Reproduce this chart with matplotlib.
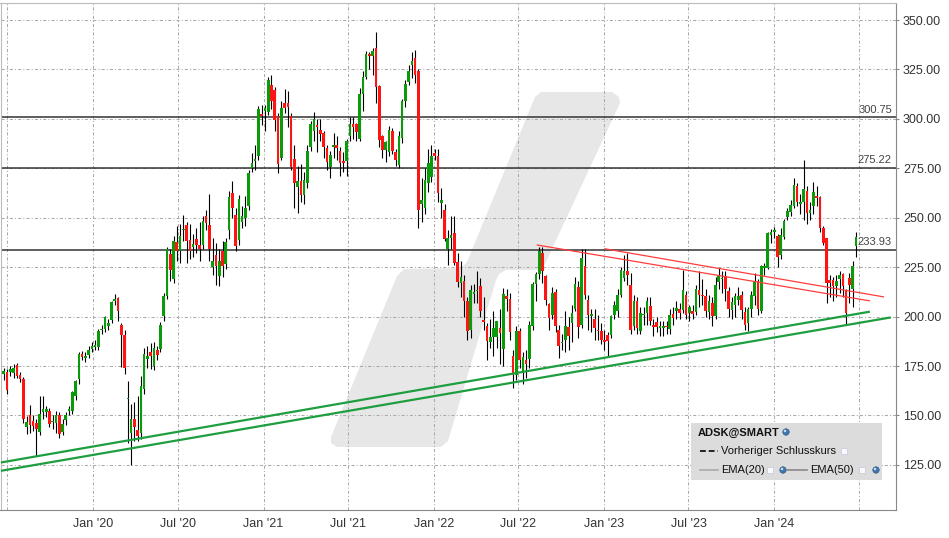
import pandas as pd
import matplotlib.pyplot as plt
import matplotlib.dates as mdates
from matplotlib.patches import Polygon, Rectangle, Ellipse
from matplotlib.lines import Line2D

plt.rcParams['font.family'] = ['Liberation Sans', 'DejaVu Sans']

# ADSK weekly candles
start_date = '2019-06-24'
opens = [171.0, 171.9, 172.0, 171.5, 175.3, 170.7, 168.5, 144.3, 150.0, 147.2,
         146.0, 141.6, 151.7, 152.0, 152.5, 146.5, 146.3, 150.0, 141.6, 147.7,
         152.2, 152.2, 160.1, 168.2, 181.3, 179.1, 180.5, 183.6, 184.4, 184.4,
         193.0, 193.7, 195.0, 198.4, 207.7, 209.3, 195.9, 190.8, 158.2, 141.2,
         148.0, 142.8, 141.2, 163.4, 178.6, 182.0, 174.9, 183.3, 183.7, 200.2,
         210.3, 231.8, 219.0, 237.5, 233.0, 243.6, 246.5, 238.9, 235.4, 239.2,
         236.4, 236.4, 251.0, 246.5, 225.1, 231.3, 220.7, 233.0, 226.8, 243.6,
         262.5, 251.5, 238.9, 248.1, 249.8, 255.7, 275.1, 278.5, 281.3, 302.5,
         304.2, 303.7, 317.2, 314.7, 301.5, 280.1, 308.2, 307.9, 301.5, 279.6,
         265.5, 268.4, 261.6, 267.5, 285.7, 294.1, 297.0, 294.4, 292.8, 285.5,
         275.6, 285.8, 286.9, 283.8, 278.5, 278.5, 291.1, 297.5, 297.5, 289.7,
         312.6, 321.4, 332.8, 331.8, 335.7, 316.7, 291.1, 284.3, 283.0, 293.9,
         283.0, 276.8, 290.2, 308.8, 318.9, 327.3, 330.6, 324.4, 257.1, 254.9,
         267.8, 270.5, 282.6, 281.3, 257.4, 253.7, 234.1, 239.7, 242.5, 227.4,
         216.9, 217.8, 207.7, 193.1, 211.4, 212.9, 215.3, 198.4, 195.4, 187.0,
         189.7, 189.7, 194.2, 183.6, 210.2, 209.0, 180.3, 170.7, 192.5, 172.3,
         178.2, 178.6, 195.1, 216.6, 221.7, 232.4, 220.3, 206.5, 201.0, 212.3,
         193.4, 186.6, 188.0, 194.7, 196.8, 204.0, 214.8, 195.6, 225.4, 208.6,
         200.2, 199.0, 193.4, 192.6, 188.4, 190.9, 190.9, 200.7, 203.0, 211.1,
         219.5, 223.2, 216.1, 195.1, 208.1, 192.6, 200.7, 201.8, 205.2, 196.0,
         197.1, 194.3, 194.0, 195.5, 193.9, 201.3, 202.7, 204.0, 203.5, 211.1,
         201.8, 203.0, 202.3, 213.6, 211.1, 210.3, 202.3, 206.9, 200.1, 217.3,
         218.8, 220.3, 212.8, 203.2, 206.0, 208.5, 211.1, 202.1, 196.8, 203.8,
         210.2, 217.8, 202.6, 224.6, 224.5, 241.4, 242.6, 240.9, 231.3, 240.5,
         250.6, 252.7, 256.0, 266.1, 257.0, 258.2, 263.3, 252.6, 256.0, 261.0,
         260.4, 244.7, 239.7, 218.6, 218.6, 215.6, 219.2, 221.7, 213.6, 219.5,
         213.9, 235.6]
highs = [174.0, 173.5, 175.0, 176.0, 176.5, 172.0, 169.5, 149.5, 155.5, 150.0,
         148.0, 159.8, 160.0, 155.0, 154.0, 150.0, 152.5, 152.0, 148.0, 152.0,
         155.0, 162.5, 168.0, 182.0, 182.5, 182.0, 185.0, 187.0, 188.0, 193.5,
         196.0, 200.5, 199.0, 208.0, 211.5, 210.0, 197.0, 193.0, 167.3, 156.0,
         157.0, 160.0, 170.0, 184.0, 185.0, 186.5, 187.0, 185.0, 197.5, 212.0,
         235.0, 234.0, 241.0, 246.0, 247.0, 251.5, 248.0, 247.0, 242.0, 245.0,
         248.0, 251.0, 254.0, 262.0, 240.0, 237.0, 234.0, 238.0, 240.0, 263.5,
         268.5, 255.0, 261.5, 256.0, 261.0, 274.0, 282.5, 287.0, 306.5, 307.0,
         307.0, 321.0, 322.0, 316.0, 303.0, 309.0, 315.0, 314.0, 303.0, 287.0,
         276.0, 277.0, 273.0, 287.0, 299.0, 303.5, 300.0, 300.0, 294.0, 287.0,
         284.0, 293.0, 291.5, 286.0, 283.0, 290.0, 301.0, 301.0, 298.0, 315.5,
         324.0, 334.5, 334.0, 336.0, 344.1, 317.0, 292.0, 289.0, 296.5, 295.5,
         285.0, 294.0, 310.0, 319.5, 327.0, 334.0, 335.0, 325.0, 270.0, 275.0,
         285.0, 287.0, 285.0, 285.0, 265.0, 257.0, 244.0, 251.0, 251.0, 232.0,
         228.0, 221.0, 210.0, 216.0, 216.5, 223.0, 219.5, 210.0, 197.0, 199.0,
         203.0, 198.0, 204.0, 214.5, 214.0, 212.0, 183.0, 195.0, 194.0, 182.0,
         183.0, 198.0, 217.5, 222.5, 235.0, 235.0, 221.0, 207.0, 215.0, 214.0,
         196.0, 191.0, 203.0, 200.0, 206.0, 220.0, 218.0, 234.0, 234.0, 211.0,
         204.0, 204.0, 201.0, 197.0, 193.0, 192.0, 201.0, 208.0, 214.0, 225.0,
         231.0, 232.0, 222.0, 211.0, 210.0, 205.0, 205.0, 210.0, 210.0, 199.0,
         200.0, 198.0, 198.0, 198.0, 204.0, 205.0, 208.0, 207.0, 223.7, 213.0,
         206.0, 206.0, 216.0, 222.9, 219.0, 214.0, 211.0, 210.0, 220.0, 224.5,
         223.0, 223.0, 215.0, 210.0, 212.0, 215.0, 213.0, 205.0, 205.0, 213.0,
         222.0, 219.0, 226.0, 227.0, 243.0, 244.5, 245.5, 242.0, 245.0, 249.5,
         255.0, 259.0, 270.0, 267.5, 262.0, 279.2, 266.0, 258.0, 268.0, 266.0,
         261.0, 246.0, 240.0, 221.0, 220.0, 221.0, 223.0, 222.0, 214.0, 222.0,
         228.0, 243.0]
lows = [168.0, 161.0, 170.0, 169.0, 169.0, 167.0, 146.0, 140.4, 141.0, 142.0,
        129.5, 140.0, 148.0, 149.0, 144.0, 143.0, 141.0, 138.5, 140.0, 145.0,
        150.0, 151.0, 158.0, 166.0, 178.0, 177.0, 179.0, 182.0, 183.0, 183.0,
        191.0, 192.0, 193.0, 197.0, 206.0, 198.0, 174.5, 171.0, 136.0, 125.2,
        137.0, 137.0, 138.0, 161.0, 174.0, 173.5, 173.0, 178.0, 182.0, 198.0,
        209.0, 218.0, 217.0, 228.0, 227.0, 238.0, 227.0, 229.0, 230.0, 232.0,
        228.0, 234.0, 244.0, 228.0, 221.0, 216.0, 215.5, 220.0, 224.0, 239.0,
        250.0, 233.0, 236.0, 245.0, 246.0, 254.0, 273.0, 274.0, 279.0, 297.0,
        294.0, 302.0, 305.0, 294.0, 272.5, 279.0, 303.0, 296.0, 274.0, 254.9,
        252.4, 258.0, 257.0, 265.0, 284.0, 289.0, 283.0, 289.0, 280.0, 274.0,
        270.0, 280.0, 279.0, 271.0, 273.0, 271.0, 289.0, 290.0, 289.0, 289.0,
        304.0, 320.0, 325.0, 322.0, 308.0, 286.0, 280.0, 278.0, 281.0, 282.0,
        276.0, 275.0, 288.0, 306.0, 317.0, 320.5, 318.0, 245.0, 248.0, 252.0,
        263.0, 268.0, 279.0, 258.0, 250.0, 238.0, 226.0, 234.0, 226.0, 215.0,
        210.0, 200.0, 188.0, 189.0, 207.0, 207.0, 200.0, 193.0, 178.0, 184.0,
        180.0, 184.0, 176.0, 175.0, 203.0, 188.0, 164.0, 168.0, 174.0, 166.0,
        169.0, 174.0, 193.0, 208.0, 219.0, 217.0, 206.0, 193.0, 199.0, 192.0,
        179.0, 183.0, 182.0, 183.0, 187.0, 203.0, 189.0, 194.0, 209.0, 193.0,
        192.0, 188.0, 188.0, 186.0, 183.0, 180.0, 189.0, 199.0, 200.0, 210.0,
        218.0, 216.0, 191.0, 193.0, 191.0, 191.0, 196.0, 196.0, 196.0, 190.0,
        192.0, 190.0, 190.0, 191.0, 191.0, 196.0, 199.0, 199.0, 202.0, 199.0,
        198.0, 199.0, 201.0, 205.0, 206.0, 200.0, 199.0, 195.0, 199.0, 214.0,
        212.0, 208.0, 200.0, 199.0, 200.0, 206.0, 199.0, 193.0, 192.5, 200.0,
        206.0, 201.0, 202.0, 221.0, 224.0, 237.0, 240.0, 225.0, 229.0, 239.0,
        249.0, 251.0, 255.0, 256.0, 252.0, 249.0, 247.0, 249.0, 252.0, 256.0,
        243.0, 236.0, 207.0, 210.0, 208.0, 210.0, 212.0, 210.0, 196.0, 207.0,
        205.0, 230.0]
closes = [172.5, 163.0, 173.5, 174.0, 170.2, 168.5, 148.0, 146.6, 145.0, 144.6,
          143.3, 150.5, 153.4, 153.2, 145.5, 147.2, 150.0, 140.4, 145.8, 150.0,
          153.4, 161.8, 167.4, 181.3, 179.6, 180.3, 183.0, 185.3, 185.4, 192.5,
          193.7, 199.6, 197.0, 207.2, 209.0, 202.6, 190.8, 174.0, 159.0, 148.2,
          144.0, 139.5, 165.0, 181.2, 180.3, 180.0, 184.2, 180.8, 196.0, 210.6,
          234.2, 223.4, 238.0, 233.0, 240.6, 244.3, 238.0, 233.0, 236.6, 236.4,
          234.2, 248.5, 247.3, 234.2, 228.0, 225.4, 228.0, 225.8, 237.5, 260.3,
          254.9, 235.9, 259.4, 251.0, 254.9, 272.6, 277.9, 279.6, 304.9, 301.7,
          305.4, 319.7, 308.8, 299.2, 277.3, 305.4, 305.4, 305.9, 275.9, 267.5,
          268.4, 261.6, 269.2, 284.0, 297.5, 300.0, 295.8, 292.4, 286.0, 278.0,
          281.8, 286.4, 285.2, 277.6, 277.6, 288.9, 297.5, 296.1, 293.6, 312.6,
          321.0, 332.8, 331.8, 334.2, 316.0, 289.1, 284.3, 288.1, 294.4, 284.0,
          279.0, 291.1, 308.8, 317.7, 324.4, 329.5, 322.2, 254.0, 259.1, 269.2,
          277.6, 281.0, 281.3, 262.4, 259.0, 239.2, 239.7, 241.4, 227.1, 217.3,
          219.8, 207.7, 192.5, 213.6, 212.6, 213.3, 202.6, 197.1, 187.5, 189.7,
          194.2, 197.6, 191.7, 211.6, 208.9, 192.0, 170.7, 192.5, 178.2, 179.6,
          176.2, 195.9, 216.6, 221.7, 233.0, 222.9, 208.2, 199.3, 211.9, 195.1,
          185.3, 187.2, 195.1, 190.0, 201.8, 216.5, 194.6, 229.6, 210.8, 201.0,
          201.3, 194.3, 192.6, 188.4, 187.2, 187.9, 200.5, 206.0, 211.1, 223.7,
          222.9, 221.2, 193.4, 207.7, 194.3, 201.8, 201.3, 208.0, 198.0, 194.6,
          194.6, 195.1, 195.0, 194.5, 201.0, 199.3, 204.4, 201.8, 213.6, 201.0,
          204.7, 201.3, 214.1, 210.8, 210.3, 203.0, 208.0, 200.2, 216.1, 220.3,
          219.5, 213.9, 203.8, 207.2, 210.2, 210.2, 203.2, 195.9, 203.8, 211.1,
          217.8, 203.8, 225.4, 225.0, 242.5, 243.0, 243.6, 230.4, 241.4, 248.6,
          253.2, 256.5, 266.6, 258.2, 257.5, 264.4, 252.3, 254.0, 262.8, 260.2,
          244.7, 237.2, 217.0, 217.0, 215.6, 217.8, 221.2, 215.6, 201.8, 216.1,
          225.7, 240.2]

# horizontal levels
levels = [300.75, 275.22, 233.93]

# trend lines: (start date, start price, end date, end price)
green_lines = [('2019-06-10', 125.9, '2024-07-24', 202.5),
               ('2019-06-10', 121.7, '2024-09-07', 199.6)]
red_lines = [('2022-08-11', 236.2, '2024-07-23', 208.0),
             ('2023-01-03', 234.3, '2024-08-22', 210.0)]

tick_dates = ['2019-07-01', '2020-01-01', '2020-07-01', '2021-01-01', '2021-07-01',
              '2022-01-01', '2022-07-01', '2023-01-01', '2023-07-01', '2024-01-01',
              '2024-07-01']
tick_labels = ['', "Jan '20", "Jul '20", "Jan '21", "Jul '21", "Jan '22",
               "Jul '22", "Jan '23", "Jul '23", "Jan '24", '']
y_ticks = [125, 150, 175, 200, 225, 250, 275, 300, 325, 350]

W, H = 949, 538
fig = plt.figure(figsize=(W / 100, H / 100), dpi=100)
fig.patch.set_facecolor('white')
ax = fig.add_axes([0.5 / W, 1 - 510 / H, 895.5 / W, 507 / H])


def fx(x):
    return x / W


def fy(y):
    return 1 - y / H


# watermark logo (pixel outline: upper slash + lower foot)
logo_px = [(541, 92), (612, 92), (619, 97), (620, 103), (545, 264), (538, 270),
           (506, 270), (499, 274), (496, 280), (448, 441), (441, 447),
           (337, 447), (331, 443), (331, 437), (397, 276), (404, 269),
           (461, 268), (467, 262), (535, 97)]
logo = Polygon([(fx(x), fy(y)) for x, y in logo_px], closed=True,
               transform=fig.transFigure, facecolor='#e7e7e7', edgecolor='none', zorder=0.2)
ax.add_patch(logo)

dates = pd.date_range(start_date, periods=len(closes), freq='7D')
xd = mdates.date2num(dates)

# wicks
ax.vlines(xd, lows, highs, color='black', lw=0.8, zorder=3)
# bodies
bottoms = [min(o, c) for o, c in zip(opens, closes)]
heights = [max(abs(c - o), 0.8) for o, c in zip(opens, closes)]
colors = ['#0a9a0a' if c >= o else '#ff1414' for o, c in zip(opens, closes)]
ax.bar(xd, heights, bottom=bottoms, width=5.6, color=colors, linewidth=0, zorder=4)

# horizontal lines with labels
for lv in levels:
    ax.axhline(lv, color='#333333', lw=1.1, zorder=2)
    ax.annotate(f'{lv:.2f}', xy=(1, lv), xycoords=('axes fraction', 'data'),
                xytext=(-3, 2), textcoords='offset points', ha='right', va='bottom',
                fontsize=8, color='#444444', zorder=5)

for d0, p0, d1, p1 in green_lines:
    ax.plot(pd.to_datetime([d0, d1]), [p0, p1], color='#1e9e3e', lw=1.6, zorder=5,
            solid_capstyle='butt')
for d0, p0, d1, p1 in red_lines:
    ax.plot(pd.to_datetime([d0, d1]), [p0, p1], color='#ff3c3c', lw=0.9, zorder=5)

ax.set_xlim(pd.Timestamp('2019-06-17'), pd.Timestamp('2024-09-18'))
ax.set_ylim(102.2, 358.6)

ax.set_xticks(pd.to_datetime(tick_dates))
ax.set_xticklabels(tick_labels)
ax.set_yticks(y_ticks)
ax.set_yticklabels([f'{v:.2f}' for v in y_ticks])
ax.yaxis.tick_right()
ax.tick_params(axis='x', length=0, pad=6, labelsize=9, labelcolor='#333333')
ax.tick_params(axis='y', length=2, pad=3, labelsize=9, labelcolor='#333333', color='#888888')

ax.set_axisbelow(True)
ax.grid(True, color='#aaaaaa', lw=0.75, ls=(0, (3, 2, 1, 2)))
for side in ['left', 'top']:
    ax.spines[side].set_color('#bbbbbb')
for side in ['right', 'bottom']:
    ax.spines[side].set_color('#888888')

# legend box
fig.add_artist(Rectangle((fx(691), fy(480)), (882 - 691) / W, (480 - 423) / H,
                         transform=fig.transFigure, facecolor='#dcdcdc', edgecolor='none'))
fig.text(fx(698), fy(433), 'ADSK@SMART', fontsize=8, fontweight='bold', va='center',
         ha='left', color='#111111')


def globe(x, y):
    fig.add_artist(Ellipse((fx(x), fy(y)), 6.5 / W, 6.5 / H, transform=fig.transFigure,
                           facecolor='#3f74b0', edgecolor='#2a4f7a', lw=0.4))
    fig.add_artist(Ellipse((fx(x - 1), fy(y - 1)), 2.5 / W, 2.5 / H, transform=fig.transFigure,
                           facecolor='#cfe0f5', edgecolor='none'))


def checkbox(x, y):
    fig.add_artist(Rectangle((fx(x - 3), fy(y + 3)), 6 / W, 6 / H, transform=fig.transFigure,
                             facecolor='#f8f8ff', edgecolor='#c8c8d8', lw=0.5))


globe(786, 432)
fig.add_artist(Line2D([fx(700), fx(718)], [fy(451), fy(451)], transform=fig.transFigure,
                      color='#222222', lw=1.4, ls=(0, (3, 1.5))))
fig.text(fx(721), fy(451), 'Vorheriger Schlusskurs', fontsize=8, va='center', ha='left',
         color='#111111')
checkbox(844, 451)
fig.add_artist(Line2D([fx(700), fx(718)], [fy(470), fy(470)], transform=fig.transFigure,
                      color='#aaaaaa', lw=1.2))
fig.text(fx(721), fy(470), 'EMA(20)', fontsize=8, va='center', ha='left', color='#111111')
checkbox(770, 470)
globe(783, 470)
fig.add_artist(Line2D([fx(787), fx(807)], [fy(470), fy(470)], transform=fig.transFigure,
                      color='#888888', lw=1.2))
fig.text(fx(810), fy(470), 'EMA(50)', fontsize=8, va='center', ha='left', color='#111111')
checkbox(862, 470)
globe(876, 470)

fig.savefig('out.png', dpi=100)
